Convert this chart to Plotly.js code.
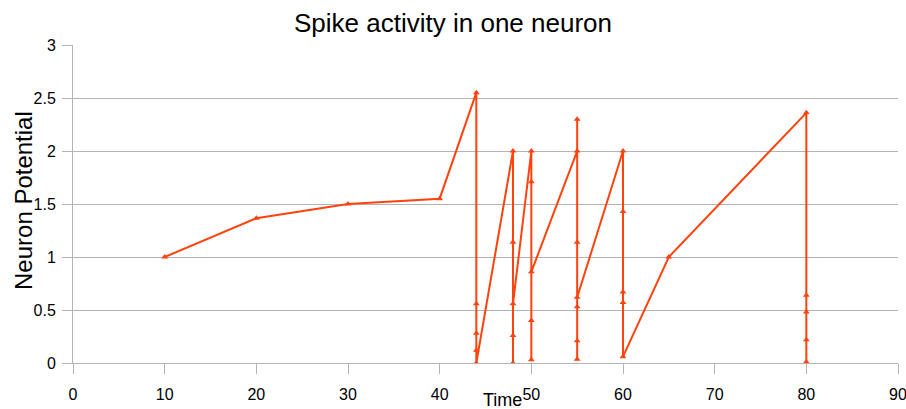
<!DOCTYPE html>
<html>
<head>
<meta charset="utf-8">
<script src="https://cdn.plot.ly/plotly-3.0.1.min.js"></script>
<style>html,body{margin:0;padding:0;background:#fff;}#chart{width:906px;height:409px;}</style>
</head>
<body>
<div id="chart"></div>
<script>
const timeValues = [10, 20, 30, 40,
  44, 44, 44, 44, 44,
  48, 48, 48, 48, 48,
  50, 50, 50, 50, 50,
  55, 55, 55, 55, 55, 55, 55,
  60, 60, 60, 60, 60,
  65,
  80, 80, 80, 80, 80];
const potentialValues = [1.0, 1.365, 1.5, 1.55,
  2.55, 0.56, 0.28, 0.12, 0.0,
  2.0, 1.14, 0.26, 0.0, 0.56,
  2.0, 1.71, 0.40, 0.03, 0.86,
  2.0, 2.30, 1.14, 0.21, 0.035, 0.53, 0.62,
  2.0, 1.43, 0.67, 0.57, 0.06,
  1.0,
  2.36, 0.64, 0.48, 0.22, 0.01];
const xTicks = [0, 10, 20, 30, 40, 50, 60, 70, 80, 90];
const yTicks = [0, 0.5, 1, 1.5, 2, 2.5, 3];
const yTickText = ["0", "0.5", "1", "1.5", "2", "2.5", "3"];

const trace = {
  x: timeValues,
  y: potentialValues,
  type: 'scatter',
  mode: 'lines+markers',
  line: {color: '#ff420e', width: 2},
  marker: {symbol: 'triangle-up', size: 6, color: '#ff420e'},
  hoverinfo: 'x+y'
};

const layout = {
  width: 906, height: 409,
  margin: {l: 73, r: 8, t: 45, b: 46},
  paper_bgcolor: '#ffffff', plot_bgcolor: '#ffffff',
  font: {family: 'Liberation Sans, Arial, sans-serif', color: '#000000'},
  title: {text: 'Spike activity in one neuron', font: {size: 26, color: '#000'}, x: 0.5, xanchor: 'center', y: 0.945, yanchor: 'middle'},
  showlegend: false,
  xaxis: {
    range: [0, 90], tickvals: xTicks, ticktext: xTicks.map(String),
    showgrid: false, zeroline: false,
    showline: true, linecolor: '#b3b3b3', linewidth: 1,
    ticks: 'outside', ticklen: 10, tickcolor: '#b3b3b3',
    tickfont: {size: 16}, ticklabelstandoff: 7, ticklabeloverflow: 'allow'
  },
  yaxis: {
    range: [0, 3], tickvals: yTicks, ticktext: yTickText,
    showgrid: true, gridcolor: '#b3b3b3', gridwidth: 1, zeroline: false,
    showline: true, linecolor: '#b3b3b3', linewidth: 1,
    ticks: 'outside', ticklen: 10, tickcolor: '#b3b3b3',
    tickfont: {size: 16}, ticklabelstandoff: 3, ticklabeloverflow: 'allow'
  },
  annotations: [{
    text: 'Time', xref: 'paper', yref: 'paper', x: 0.52, y: -0.115,
    xanchor: 'center', yanchor: 'middle', showarrow: false, font: {size: 18}
  }, {
    text: 'Neuron Potential', xref: 'paper', yref: 'paper', x: -0.0594, y: 0.5126,
    xanchor: 'center', yanchor: 'middle', textangle: -90, showarrow: false, font: {size: 24}
  }]
};

Plotly.newPlot('chart', [trace], layout, {displayModeBar: false, staticPlot: true});
</script>
</body>
</html>
